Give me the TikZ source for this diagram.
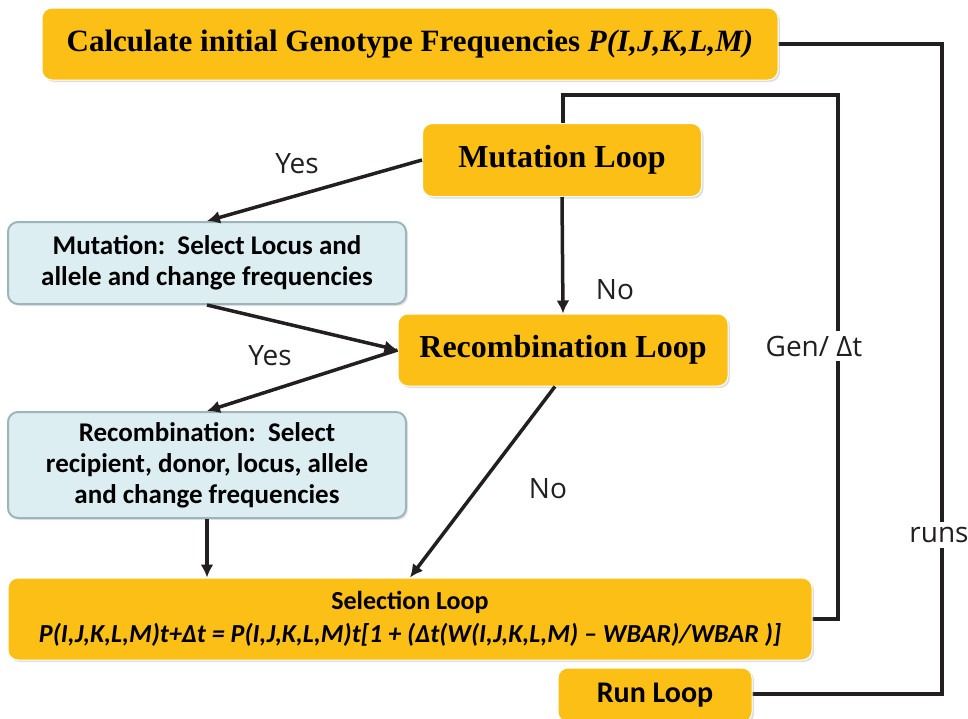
\documentclass[tikz,border=0pt]{standalone}
\usepackage{fontspec}
\setmainfont{Liberation Serif}
\newfontfamily\bodyfont[Ligatures=TeX]{Carlito}
\newfontfamily\labelfont{Open Sans}
\usepackage{tikz}
\usetikzlibrary{arrows.meta,calc,shadows}

\definecolor{loopgold}{HTML}{FBBF15}
\definecolor{boxblue}{HTML}{DDEEF2}
\definecolor{boxedge}{HTML}{9DB4BA}
\definecolor{ink}{HTML}{231F20}

\begin{document}
\begin{tikzpicture}[x=1pt,y=-1pt,
		loopbox/.style={fill=loopgold,draw=white,line width=1pt,rounded corners=10pt,
			drop shadow={opacity=0.25,shadow xshift=2pt,shadow yshift=-2pt},inner sep=0pt},
		stepbox/.style={fill=boxblue,draw=boxedge,line width=2pt,rounded corners=10pt,
			drop shadow={opacity=0.2,shadow xshift=2pt,shadow yshift=-2pt},inner sep=0pt,
			align=center,font=\bodyfont\fontsize{27}{31}\selectfont\bfseries},
		flow/.style={ink,line width=3.5pt,-{Latex[length=13pt,width=13pt]}},
		feedback/.style={ink,line width=3.5pt},
		lbl/.style={font=\labelfont\fontsize{28}{30}\selectfont,text=ink,inner sep=1pt}]
			\useasboundingbox (0,0) rectangle (968,718);
			% frame of the scheme
			\def\genx{838} \def\runx{942} \def\topy{95}
			% feedback lines behind the boxes
			\draw[feedback] (563,\topy+40) -- (563,\topy) -- (\genx,\topy) -- (\genx,619) -- (810,619);
			\draw[feedback] (776,44) -- (\runx,44) -- (\runx,694) -- (750,694);
			% loop boxes
			\node[loopbox,minimum width=736pt,minimum height=72pt] (init) at (410,44)
				{\fontsize{31}{33}\selectfont\bfseries Calculate initial Genotype Frequencies \textit{P(I,J,K,L,M)}};
			\node[loopbox,minimum width=279pt,minimum height=73pt] (mutloop) at (562,160)
				{\fontsize{32}{34}\selectfont\bfseries Mutation Loop};
			\node[loopbox,minimum width=330pt,minimum height=72pt] (recloop) at (563,350)
				{\fontsize{32}{34}\selectfont\bfseries Recombination Loop};
			\node[loopbox,minimum width=804pt,minimum height=82pt,align=center,
				font=\bodyfont\fontsize{26}{33}\selectfont\bfseries] (selloop) at (410,619)
				{Selection Loop\\ \itshape P(I,J,K,L,M)t+Δt = P(I,J,K,L,M)t[1 + (Δt(W(I,J,K,L,M) – WBAR)/WBAR )]};
			\node[loopbox,minimum width=194pt,minimum height=54pt,
				font=\bodyfont\fontsize{30}{32}\selectfont\bfseries] (runloop) at (655,695) {Run Loop};
			% step boxes
			\node[stepbox,minimum width=398pt,minimum height=82pt] (mutbox) at (207,263)
				{Mutation:\ \ Select Locus and\\allele and change frequencies};
			\node[stepbox,minimum width=398pt,minimum height=106pt] (recbox) at (207,465)
				{Recombination:\ \ Select\\recipient, donor, locus, allele\\and change frequencies};
			% decisions
			\draw[flow] (mutloop.west) -- (mutbox.north);
			\draw[flow] (mutloop.south) -- (recloop.north);
			\draw[flow] (mutbox.south) -- (recloop.west);
			\draw[flow] (recloop.west) -- (recbox.north);
			\draw[flow] ([xshift=-8pt]recloop.south) -- (selloop.north);
			\draw[flow] (recbox.south) -- (recbox.south |- selloop.north);
			% labels
			\node[lbl] (yes1) at (297,164) {Yes};
			\node[lbl] (no1) at (615,290) {No};
			\node[lbl] (yes2) at (270,356) {Yes};
			\node[lbl] (no2) at (548,489) {No};
			\node[lbl,fill=white,inner ysep=5pt] (gen) at (814,346) {Gen/ Δt};
			\node[lbl,fill=white,inner ysep=5pt] (runs) at (939,535) {runs};
		\end{tikzpicture}
\end{document}
